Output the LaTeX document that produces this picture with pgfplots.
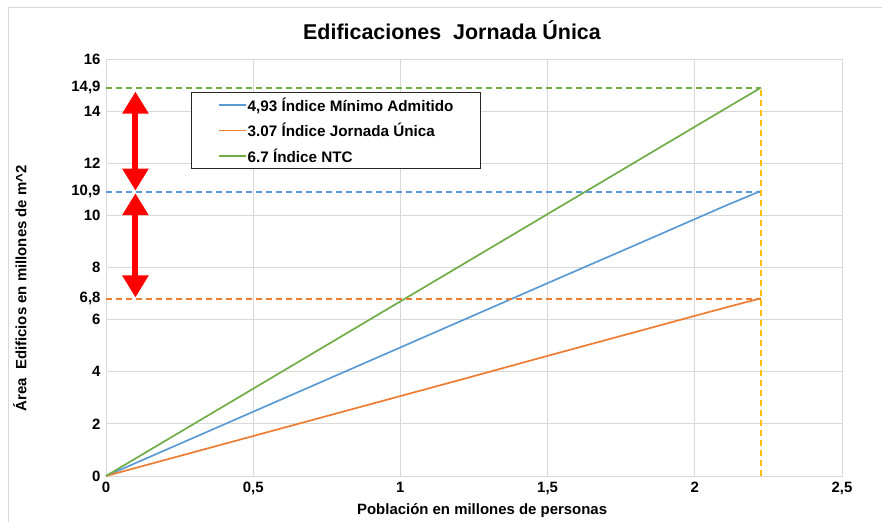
\documentclass[border=0pt]{standalone}
\usepackage{fontspec}
\setmainfont{Liberation Sans}
\usepackage{pgfplots}
\pgfplotsset{compat=1.18}
\usetikzlibrary{arrows.meta}
\definecolor{cblue}{HTML}{5B9BD5}
\definecolor{corange}{HTML}{ED7D31}
\definecolor{cgreen}{HTML}{70AD47}
\definecolor{cyellow}{HTML}{FFC000}
\definecolor{cgrid}{HTML}{D9D9D9}
\begin{document}
\begin{tikzpicture}
\useasboundingbox (0,0) rectangle (882bp,522bp);
\fill[white] (0,0) rectangle (882bp,522bp);
\draw[cgrid, line width=0.8bp] (8bp,0) -- (8bp,515bp) -- (882bp,515bp);
\node[font=\bfseries\fontsize{21.5}{25}\selectfont] at (452bp,492bp) {Edificaciones\ \ Jornada Única};
\begin{axis}[
  at={(106bp,46bp)}, anchor=south west,
  scale only axis, width=736bp, height=417bp,
  xmin=0, xmax=2.5, ymin=0, ymax=16,
  xtick={0,0.5,1,1.5,2,2.5},
  ytick={0,2,4,6,8,10,12,14,16},
  extra y ticks={6.8,10.9,14.9},
  extra y tick labels={{6,8},{10,9},{14,9}},
  extra tick style={grid=none, major tick length=0pt},
  major tick length=0pt,
  grid=major,
  major grid style={cgrid, line width=0.9bp},
  axis line style={cgrid, line width=0.9bp},
  /pgf/number format/assume math mode=true,
  /pgf/number format/use comma,
  ticklabel style={font=\bfseries\fontsize{15}{17}\selectfont, text=black},
  xticklabel style={yshift=-3bp},
  yticklabel style={xshift=-2bp},
  xlabel={Población en millones de personas},
  ylabel={Área\ \ Edificios en millones de m\^{}2},
  xlabel style={font=\bfseries\fontsize{15}{17}\selectfont, at={(rel axis cs:0.511,-0.084)}, anchor=center},
  ylabel style={font=\bfseries\fontsize{15}{17}\selectfont, at={(rel axis cs:-0.117,0.45)}, anchor=center},
  legend style={at={(axis cs:0.289,14.73)}, anchor=north west, draw=black!85, line width=0.9bp,
    font=\bfseries\fontsize{15.3}{18}\selectfont, inner xsep=27bp, inner ysep=3bp,
    row sep=6.5bp, fill=white, nodes={inner xsep=0.5bp}},
  legend cell align=left,
  legend image code/.code={\draw[#1, line width=1.6bp] (0bp,0bp) -- (27bp,0bp);},
  clip=false,
]
\addplot[draw=cblue, line width=1.7bp] coordinates {(0,0) (0.3,1.48) (0.6,2.96) (0.9,4.44) (1.2,5.92) (1.5,7.40) (1.8,8.87) (2.1,10.35) (2.225,10.94)};
\addlegendentry{4,93 Índice Mínimo Admitido}
\addplot[draw=corange, line width=1.7bp] coordinates {(0,0) (0.3,0.92) (0.6,1.84) (0.9,2.76) (1.2,3.68) (1.5,4.61) (1.8,5.53) (2.1,6.45) (2.225,6.82)};
\addlegendentry{3.07 Índice Jornada Única}
\addplot[draw=cgreen, line width=1.7bp] coordinates {(0,0) (0.3,2.01) (0.6,4.02) (0.9,6.03) (1.2,8.04) (1.5,10.05) (1.8,12.06) (2.1,14.07) (2.225,14.9)};
\addlegendentry{6.7 Índice NTC}
\addplot[forget plot, draw=cgreen, line width=2bp, dash pattern=on 6bp off 4bp] coordinates {(0,14.9) (2.225,14.9)};
\addplot[forget plot, draw=cblue, line width=1.6bp, dash pattern=on 6bp off 4bp] coordinates {(0,10.9) (2.225,10.9)};
\addplot[forget plot, draw=corange, line width=2bp, dash pattern=on 6bp off 4bp] coordinates {(0,6.8) (2.225,6.8)};
\addplot[forget plot, draw=cyellow, line width=2bp, dash pattern=on 6bp off 4bp] coordinates {(2.225,0) (2.225,14.9)};
\addplot[forget plot, draw=red, fill=red, line width=6bp, {Triangle[width=25bp,length=22bp]}-{Triangle[width=25bp,length=22bp]}] coordinates {(0.1,14.75) (0.1,10.95)};
\addplot[forget plot, draw=red, fill=red, line width=6bp, {Triangle[width=25bp,length=22bp]}-{Triangle[width=25bp,length=22bp]}] coordinates {(0.1,10.85) (0.1,6.85)};
\end{axis}
\end{tikzpicture}
\end{document}
